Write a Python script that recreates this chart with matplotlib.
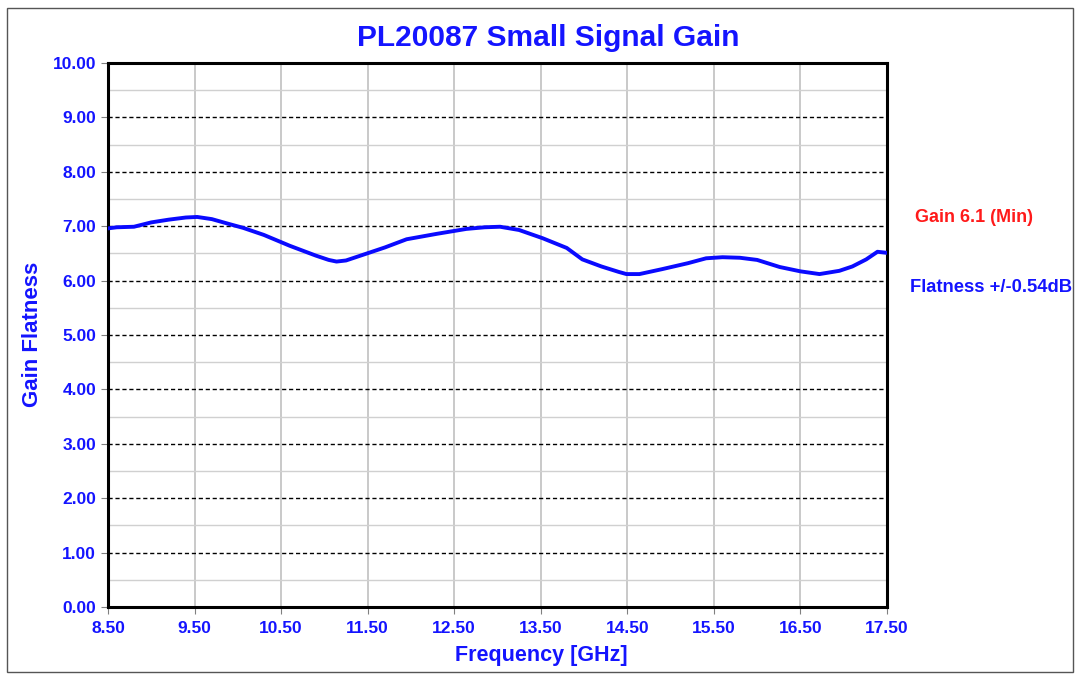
import matplotlib.pyplot as plt
from matplotlib.patches import Rectangle

freq = [8.50, 8.60, 8.80, 9.00, 9.20, 9.40, 9.53, 9.70, 9.90, 10.06, 10.30, 10.60,
        10.90, 11.05, 11.14, 11.25, 11.40, 11.70, 11.95, 12.30, 12.64, 12.85, 13.03,
        13.25, 13.52, 13.80, 13.98, 14.20, 14.40, 14.49, 14.64, 14.90, 15.20, 15.41,
        15.60, 15.80, 16.00, 16.26, 16.50, 16.72, 16.95, 17.10, 17.26, 17.39, 17.50]
gain = [6.96, 6.98, 6.99, 7.07, 7.12, 7.16, 7.17, 7.13, 7.04, 6.97, 6.84, 6.64,
        6.46, 6.38, 6.35, 6.37, 6.45, 6.61, 6.76, 6.86, 6.95, 6.98, 6.99,
        6.93, 6.78, 6.60, 6.39, 6.26, 6.16, 6.12, 6.12, 6.21, 6.32, 6.41,
        6.43, 6.42, 6.38, 6.25, 6.17, 6.12, 6.18, 6.26, 6.39, 6.53, 6.51]

xticks = [8.5 + i for i in range(10)]
yticks = list(range(0, 11))

blue = '#1414ff'
font = 'Liberation Sans'

fig = plt.figure(figsize=(10.78, 6.77), dpi=100)
ax = fig.add_axes([108/1078, 1 - 607/677, 779/1078, 544/677])

ax.plot(freq, gain, color='#0a0aff', linewidth=2.8, zorder=3)

ax.set_xlim(8.5, 17.5)
ax.set_ylim(0, 10)
ax.set_xticks(xticks)
ax.set_xticklabels(['%.2f' % t for t in xticks])
ax.set_yticks(yticks)
ax.set_yticklabels(['%.2f' % t for t in yticks])
ax.set_yticks([y + 0.5 for y in range(10)], minor=True)

ax.grid(axis='x', which='major', color='#c0c0c0', linewidth=1.2)
ax.grid(axis='y', which='major', color='black', linestyle=(0, (3, 2)), linewidth=1.0)
ax.grid(axis='y', which='minor', color='#d0d0d0', linewidth=1.0)

ax.tick_params(axis='both', which='major', labelsize=12.5, labelcolor=blue,
               color='#808080', length=5)
ax.tick_params(axis='x', pad=5)
ax.tick_params(axis='y', which='minor', length=0)
for lab in ax.get_xticklabels() + ax.get_yticklabels():
    lab.set_fontweight('bold')
    lab.set_fontfamily(font)

for s in ax.spines.values():
    s.set_linewidth(2.2)
    s.set_color('black')

fig.text(548/1078, 1 - 38/677, 'PL20087 Small Signal Gain', fontsize=21.5,
         fontweight='bold', color=blue, family=font, ha='center', va='center')
fig.text(541/1078, 1 - 656/677, 'Frequency [GHz]', fontsize=15.5, fontweight='bold',
         color=blue, family=font, ha='center', va='center')
fig.text(33/1078, 1 - 334/677, 'Gain Flatness', fontsize=16, fontweight='bold',
         color=blue, family=font, ha='center', va='center', rotation=90)

fig.text(974/1078, 1 - 218/677, 'Gain 6.1 (Min)', color='#ff1a1a', fontsize=13,
         fontweight='bold', family=font, ha='center', va='center')
fig.text(991/1078, 1 - 287/677, 'Flatness +/-0.54dB', color=blue, fontsize=13.2,
         fontweight='bold', family=font, ha='center', va='center')

fig.patches.append(Rectangle((7/1078, 5/677), 1066/1078, 664/677, fill=False,
                             edgecolor='#555555', linewidth=1,
                             transform=fig.transFigure, figure=fig))

fig.savefig('out.png', dpi=100)
